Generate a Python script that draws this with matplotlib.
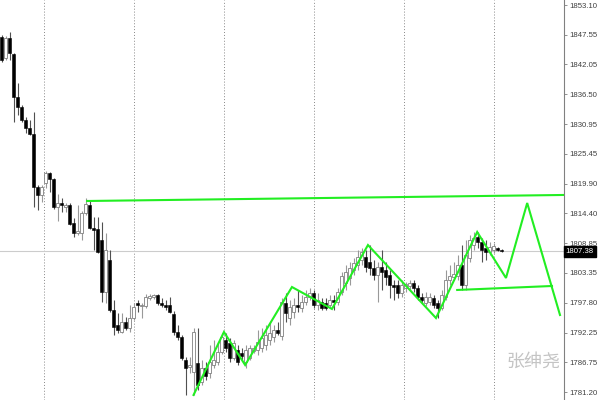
import matplotlib
matplotlib.use("Agg")
import numpy as np
import matplotlib.pyplot as plt

# OHLC of each bar (price)
opens = [1847.16, 1843.26, 1846.97, 1844.00, 1836.01, 1834.15, 1831.74, 1830.25, 1829.14, 1819.29,
         1817.80, 1820.03, 1821.89, 1820.78, 1815.58, 1816.32, 1815.58, 1815.95, 1812.60, 1810.74,
         1810.74, 1814.46, 1815.95, 1811.67, 1811.49, 1809.44, 1799.79, 1805.73, 1796.44, 1793.65,
         1792.35, 1794.21, 1793.10, 1794.95, 1797.74, 1797.18, 1797.18, 1798.67, 1798.86, 1799.23,
         1797.74, 1797.37, 1797.37, 1795.70, 1792.35, 1791.43, 1787.15, 1785.85, 1784.92, 1786.60,
         1783.07, 1785.67, 1784.74, 1786.22, 1786.78, 1788.64, 1790.87, 1790.31, 1787.52, 1789.01,
         1788.45, 1786.78, 1787.52, 1788.83, 1789.01, 1789.38, 1789.94, 1790.87, 1791.43, 1792.72,
         1791.61, 1797.74, 1794.95, 1796.07, 1797.37, 1796.81, 1797.93, 1798.86, 1799.60, 1797.37,
         1797.93, 1797.74, 1797.37, 1798.30, 1797.93, 1799.79, 1801.46, 1802.39, 1803.87, 1804.80,
         1805.73, 1806.29, 1805.36, 1804.24, 1802.94, 1804.43, 1803.87, 1802.94, 1801.08, 1801.08,
         1799.60, 1800.53, 1800.90, 1801.46, 1800.53, 1798.86, 1797.74, 1797.93, 1798.67, 1797.74,
         1796.81, 1798.86, 1802.01, 1802.57, 1802.76, 1804.80, 1801.08, 1806.10, 1808.51, 1810.00,
         1809.07, 1807.96, 1807.21, 1807.59, 1807.96, 1807.59]
highs = [1847.53, 1847.34, 1848.09, 1844.18, 1838.61, 1834.52, 1832.30, 1831.74, 1833.22, 1819.66,
         1819.66, 1822.26, 1822.08, 1820.96, 1817.99, 1817.25, 1816.32, 1816.32, 1813.53, 1815.95,
         1814.83, 1817.25, 1816.88, 1813.72, 1813.72, 1812.79, 1810.74, 1807.59, 1798.30, 1795.88,
         1795.88, 1795.14, 1797.37, 1797.74, 1798.30, 1797.74, 1799.41, 1799.41, 1799.41, 1799.41,
         1798.67, 1798.30, 1798.86, 1796.26, 1793.65, 1791.80, 1787.71, 1787.71, 1793.10, 1793.10,
         1787.15, 1786.78, 1789.94, 1790.87, 1790.50, 1792.17, 1792.17, 1791.24, 1790.87, 1789.94,
         1789.38, 1789.94, 1789.94, 1789.94, 1792.72, 1793.10, 1793.65, 1794.21, 1793.65, 1794.21,
         1798.67, 1799.60, 1798.30, 1798.67, 1800.16, 1799.23, 1800.16, 1800.53, 1800.16, 1799.60,
         1798.67, 1798.67, 1799.23, 1799.23, 1800.53, 1803.50, 1804.80, 1805.36, 1806.10, 1807.59,
         1807.96, 1807.59, 1808.51, 1805.73, 1805.36, 1807.59, 1805.36, 1803.87, 1802.01, 1802.01,
         1802.01, 1801.64, 1802.01, 1802.01, 1801.08, 1799.60, 1799.79, 1799.60, 1799.23, 1798.30,
         1800.16, 1803.87, 1804.80, 1805.36, 1806.66, 1808.51, 1809.44, 1810.37, 1810.93, 1810.93,
         1809.82, 1809.44, 1809.07, 1808.89, 1808.14, 1807.77]
lows = [1842.51, 1842.88, 1842.88, 1831.37, 1832.67, 1831.37, 1829.32, 1828.95, 1815.58, 1815.02,
        1816.50, 1819.10, 1818.36, 1815.20, 1812.97, 1814.65, 1814.65, 1812.23, 1810.00, 1810.37,
        1809.44, 1814.09, 1811.49, 1807.59, 1807.03, 1797.93, 1797.74, 1796.07, 1791.80, 1792.17,
        1792.17, 1792.72, 1792.35, 1794.58, 1796.07, 1794.95, 1796.81, 1798.30, 1798.49, 1797.37,
        1797.00, 1796.44, 1795.88, 1791.80, 1790.87, 1787.15, 1780.65, 1784.74, 1780.65, 1781.50,
        1782.51, 1783.44, 1783.81, 1785.67, 1786.22, 1788.27, 1788.64, 1786.78, 1787.15, 1786.22,
        1787.15, 1785.67, 1787.15, 1788.45, 1788.08, 1788.64, 1789.01, 1789.94, 1790.50, 1791.80,
        1790.87, 1794.21, 1793.65, 1794.95, 1796.07, 1796.07, 1797.37, 1798.30, 1796.81, 1796.44,
        1796.44, 1796.44, 1796.81, 1796.44, 1797.37, 1799.23, 1800.16, 1801.08, 1802.94, 1803.87,
        1804.80, 1803.50, 1802.94, 1802.01, 1797.93, 1800.16, 1801.08, 1798.67, 1798.30, 1798.67,
        1798.86, 1799.79, 1800.16, 1799.79, 1798.30, 1797.74, 1797.18, 1797.37, 1796.81, 1794.95,
        1796.44, 1798.30, 1801.08, 1802.01, 1802.01, 1800.16, 1800.16, 1805.36, 1807.59, 1807.96,
        1805.36, 1805.73, 1806.66, 1807.03, 1807.40, 1807.21]
closes = [1842.88, 1846.97, 1844.18, 1836.01, 1834.15, 1831.74, 1830.25, 1829.14, 1819.29, 1817.80,
          1819.29, 1821.89, 1820.78, 1815.58, 1816.32, 1815.95, 1815.95, 1812.42, 1810.74, 1811.12,
          1814.46, 1816.13, 1811.67, 1811.30, 1807.21, 1799.79, 1807.59, 1796.44, 1793.28, 1792.72,
          1794.21, 1793.10, 1794.95, 1797.00, 1797.37, 1797.37, 1798.86, 1799.04, 1799.23, 1797.74,
          1797.37, 1797.00, 1796.07, 1792.35, 1791.43, 1787.52, 1785.67, 1786.22, 1792.35, 1782.51,
          1785.67, 1784.18, 1786.78, 1787.15, 1788.64, 1791.43, 1789.38, 1787.52, 1790.31, 1786.78,
          1787.90, 1789.01, 1789.38, 1789.38, 1790.50, 1791.24, 1791.80, 1792.17, 1792.72, 1792.17,
          1797.93, 1795.88, 1797.00, 1797.37, 1797.00, 1797.93, 1798.86, 1799.60, 1797.37, 1798.30,
          1796.81, 1796.81, 1798.30, 1797.93, 1799.79, 1802.76, 1803.50, 1804.24, 1805.17, 1806.29,
          1807.21, 1804.43, 1804.24, 1802.94, 1804.43, 1803.50, 1802.57, 1801.08, 1800.71, 1799.60,
          1801.08, 1801.27, 1801.46, 1800.53, 1798.86, 1798.30, 1798.86, 1798.86, 1797.37, 1796.81,
          1799.23, 1802.01, 1802.76, 1803.13, 1804.80, 1801.08, 1806.66, 1809.44, 1809.82, 1809.07,
          1807.59, 1807.21, 1808.14, 1808.33, 1807.59, 1807.38]

# zigzag indicator (bar index, price)
zig_idx = [48, 55.6, 60.9, 72.6, 82.6, 91.6, 108.6, 118.9, 126.1, 131.4, 139.6]
zig_px = [1780.65, 1792.35, 1786.22, 1800.71, 1796.63, 1808.51, 1794.95, 1810.93, 1802.39, 1816.32, 1795.51]
# trend lines
top_idx = [21.4, 140.6]
top_px = [1816.69, 1817.81]
low_idx = [113.9, 137.6]
low_px = [1800.16, 1800.90]

price_ticks = [1853.10, 1847.55, 1842.05, 1836.50, 1830.95, 1825.45, 1819.90,
               1814.40, 1808.85, 1803.35, 1797.80, 1792.25, 1786.75, 1781.20]
last_price = 1807.38
sep_idx = [10.6, 33, 55.5, 78, 100.5, 123]

y_lo, y_hi = 1779.72, 1854.03

fig = plt.figure(figsize=(6, 4), dpi=100)
ax = fig.add_axes([0, 0, 564 / 600, 1])

o = np.array(opens)
h = np.array(highs)
l = np.array(lows)
c = np.array(closes)
x = np.arange(len(o))
up = c >= o

# period separators
for s in sep_idx:
    ax.axvline(s, color='#888888', lw=0.7, ls=(0, (1, 2)), zorder=0)

ax.axhline(last_price, color='#cccccc', lw=0.8, zorder=0)

# wicks
ax.vlines(x[up], l[up], h[up], color='#999999', lw=0.8, zorder=1)
ax.vlines(x[~up], l[~up], h[~up], color='#505050', lw=0.8, zorder=1)
# bodies
bh = np.maximum(np.abs(c - o), 0.15)
ax.bar(x[up], bh[up], bottom=np.minimum(o, c)[up], width=0.7,
       color='white', edgecolor='#808080', linewidth=0.6, zorder=2)
ax.bar(x[~up], bh[~up], bottom=np.minimum(o, c)[~up], width=0.7,
       color='black', edgecolor='black', linewidth=0.4, zorder=2)

# green lines
ax.plot(zig_idx, zig_px, color='#22ee22', lw=1.5, zorder=3, solid_joinstyle='miter')
ax.plot(top_idx, top_px, color='#22ee22', lw=1.5, zorder=3)
ax.plot(low_idx, low_px, color='#22ee22', lw=1.5, zorder=3)

ax.set_xlim(-0.375, 140.6)
ax.set_ylim(y_lo, y_hi)

for sp in ['left', 'top', 'bottom']:
    ax.spines[sp].set_visible(False)
ax.spines['right'].set_color('#808080')
ax.spines['right'].set_linewidth(0.8)
ax.set_xticks([])
ax.yaxis.tick_right()
ax.set_yticks(price_ticks)
ax.set_yticklabels(['%.2f' % v for v in price_ticks], family='Liberation Sans')
ax.tick_params(axis='y', labelsize=5.6, length=2, width=0.6, color='#808080',
               labelcolor='#404040', pad=1.5)

# current price tag
ax.text(1.003, (last_price - y_lo) / (y_hi - y_lo), '%.2f' % last_price,
        transform=ax.transAxes, fontsize=5.6, color='white', va='center', ha='left',
        family='Liberation Sans',
        bbox=dict(boxstyle='square,pad=0.25', fc='black', ec='black'), zorder=5, clip_on=False)

# watermark
ax.text(0.993, 0.095, '张绅尧', transform=ax.transAxes, fontsize=13, color='#c4c4c4',
        ha='right', va='center', family=['Noto Sans CJK SC', 'DejaVu Sans'], zorder=4)

fig.savefig('out.png', dpi=100)
